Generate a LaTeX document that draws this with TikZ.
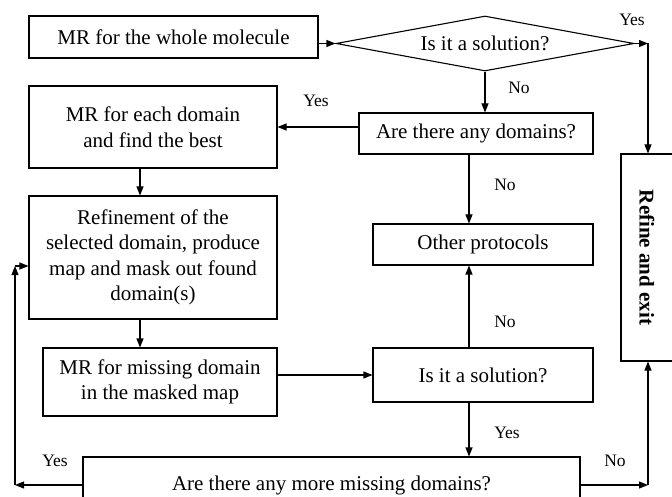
\documentclass[tikz,border=0pt]{standalone}
\usepackage{fontspec}
\setmainfont{Liberation Serif}
\usetikzlibrary{shapes.geometric,arrows.meta}
\begin{document}
\begin{tikzpicture}[x=1pt,y=-1pt,
 box/.style={draw, line width=1.1pt, inner sep=0pt, align=center, font=\fontsize{21}{25.5}\selectfont},
 lbl/.style={font=\fontsize{17.5}{20}\selectfont, inner sep=0pt},
 arr/.style={line width=1.1pt, -{Triangle[length=9pt,width=7pt]}},
 ln/.style={line width=1.1pt}]
\useasboundingbox (0,0) rectangle (672,497);
\clip (0,0) rectangle (672,497);
% nodes
\node[box, minimum width=289, minimum height=42] (whole) at (173.5,37) {MR for the whole molecule};
\node[box, shape=diamond, aspect=5.4, minimum width=298, minimum height=55] (dia) at (485,43.5) {Is it a solution?};
\node[box, minimum width=234, minimum height=41] (domains) at (476,133.5) {Are there any domains?};
\node[box, minimum width=248, minimum height=82] (each) at (153,127) {MR for each domain\\and find the best};
\node[box, minimum width=248, minimum height=123] (refinement) at (153,257.5) {Refinement of the\\selected domain, produce\\map and mask out found\\domain(s)};
\node[box, minimum width=234, minimum height=68] (missing) at (160,382) {MR for missing domain\\in the masked map};
\node[box, minimum width=220, minimum height=54] (solution) at (483,375) {Is it a solution?};
\node[box, minimum width=220, minimum height=41] (other) at (483,244.5) {Other protocols};
\node[box, minimum width=497, minimum height=56] (more) at (331.5,485) {Are there any more missing domains?};
\node[box, minimum width=52, minimum height=207] (refine) at (647,257.5) {\rotatebox{-90}{\bfseries Refine and exit}};
% helper coordinates
\coordinate (vx) at (469,0);
\coordinate (lx) at (140,0);
\coordinate (tr) at (648,43.5);
\coordinate (br) at (648,485);
\coordinate (bl) at (15,485);
\coordinate (tl) at (15,266);
% connectors
\draw[arr] (whole.east |- dia.west) -- (dia.west);
\draw[arr] (dia.east) -- (tr);
\draw[arr] (tr) -- (tr |- refine.north);
\draw[arr] (dia.south) -- (dia.south |- domains.north);
\draw[arr] (domains.west |- each.east) -- (each.east);
\draw[arr] (domains.south -| vx) -- (other.north -| vx);
\draw[arr] (each.south -| lx) -- (refinement.north -| lx);
\draw[arr] (refinement.south -| lx) -- (missing.north -| lx);
\draw[arr] (missing.east |- solution.west) -- (solution.west);
\draw[arr] (solution.north -| vx) -- (other.south -| vx);
\draw[arr] (solution.south -| vx) -- (more.north -| vx);
\draw[arr] (more.west) -- (bl);
\draw[arr] (bl) -- (tl);
\draw[arr] (tl) -- (refinement.west |- tl);
\draw[arr] (more.east) -- (br);
\draw[arr] (br) -- (br |- refine.south);
% labels
\node[lbl] (l1) at (632,20) {Yes};
\node[lbl] (l2) at (519,88) {No};
\node[lbl] (l3) at (316,101) {Yes};
\node[lbl] (l4) at (505,185) {No};
\node[lbl] (l5) at (505,322) {No};
\node[lbl] (l6) at (507,433) {Yes};
\node[lbl] (l7) at (55,461) {Yes};
\node[lbl] (l8) at (615,461) {No};
\end{tikzpicture}
\end{document}
